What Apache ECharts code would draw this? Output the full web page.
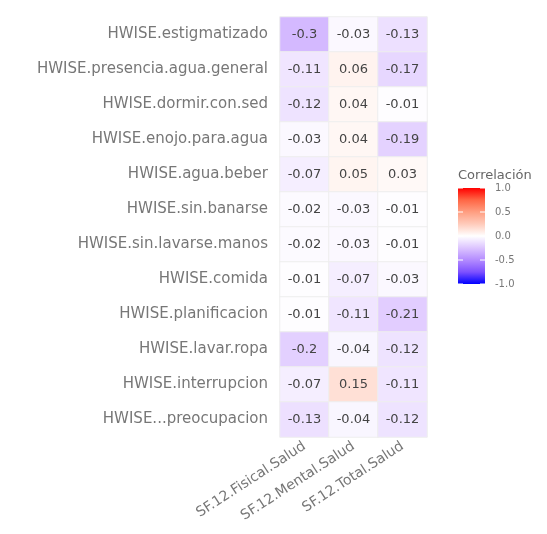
<!DOCTYPE html>
<html>
<head>
<meta charset="utf-8">
<script src="https://cdn.jsdelivr.net/npm/echarts@6/dist/echarts.min.js"></script>
<style>
html,body{margin:0;padding:0;background:#fff;}
#chart{width:547px;height:534px;}
</style>
</head>
<body>
<div id="chart"></div>
<script>
const rowLabels = [
  "HWISE.estigmatizado",
  "HWISE.presencia.agua.general",
  "HWISE.dormir.con.sed",
  "HWISE.enojo.para.agua",
  "HWISE.agua.beber",
  "HWISE.sin.banarse",
  "HWISE.sin.lavarse.manos",
  "HWISE.comida",
  "HWISE.planificacion",
  "HWISE.lavar.ropa",
  "HWISE.interrupcion",
  "HWISE...preocupacion"
];
const colLabels = ["SF.12.Fisical.Salud", "SF.12.Mental.Salud", "SF.12.Total.Salud"];
const fisical = [-0.3, -0.11, -0.12, -0.03, -0.07, -0.02, -0.02, -0.01, -0.01, -0.2, -0.07, -0.13];
const mental  = [-0.03, 0.06, 0.04, 0.04, 0.05, -0.03, -0.03, -0.07, -0.11, -0.04, 0.15, -0.04];
const total   = [-0.13, -0.17, -0.01, -0.19, 0.03, -0.01, -0.01, -0.03, -0.21, -0.12, -0.11, -0.12];
const legendTicks = [1.0, 0.5, 0.0, -0.5, -1.0];
const legendTitle = "Correlación";
const palette = ['#0000FF', '#7E51FF', '#B38BFF', '#DCC4FF', '#FFFFFF', '#FFCBBB', '#FF9E81', '#FF6645', '#FF0000'];

const columns = [fisical, mental, total];
const data = [];
columns.forEach((col, xi) => col.forEach((v, yi) => data.push([xi, yi, v])));

const barTop = 188, barH = 96, barLeft = 458, barW = 27;
const graphics = [{
  type: 'text', left: barLeft, top: barTop - 19,
  style: { text: legendTitle, fill: '#666', font: '13px "DejaVu Sans"' }
}, {
  type: 'rect', shape: { x: barLeft, y: barTop, width: barW, height: barH },
  style: {
    fill: new echarts.graphic.LinearGradient(0, 1, 0, 0,
      palette.map((c, i) => ({ offset: i / (palette.length - 1), color: c })))
  }
}];
legendTicks.forEach(t => {
  const y = barTop + (1 - t) / 2 * barH;
  graphics.push({
    type: 'text', x: barLeft + barW + 10, y: y,
    style: { text: t.toFixed(1), fill: '#777', font: '10px "DejaVu Sans"', textVerticalAlign: 'middle' }
  });
  graphics.push({ type: 'line', shape: { x1: barLeft, y1: y, x2: barLeft + 5, y2: y }, style: { stroke: '#fff', lineWidth: 1 }, z: 100 });
  graphics.push({ type: 'line', shape: { x1: barLeft + barW - 5, y1: y, x2: barLeft + barW, y2: y }, style: { stroke: '#fff', lineWidth: 1 }, z: 100 });
});

const chart = echarts.init(document.getElementById('chart'));
chart.setOption({
  animation: false,
  backgroundColor: '#fff',
  grid: { left: 280, right: 120, top: 17, bottom: 97 },
  xAxis: {
    type: 'category', data: colLabels,
    axisLine: { show: false }, axisTick: { show: false }, splitLine: { show: false },
    axisLabel: { rotate: 33, margin: 8, color: '#777', fontSize: 14, fontFamily: 'DejaVu Sans' }
  },
  yAxis: {
    type: 'category', data: rowLabels, inverse: true,
    axisLine: { show: false }, axisTick: { show: false }, splitLine: { show: false },
    axisLabel: { margin: 12, color: '#777', fontSize: 15, fontFamily: 'DejaVu Sans' }
  },
  visualMap: {
    type: 'continuous', min: -1, max: 1, show: false,
    inRange: { color: palette }
  },
  graphic: graphics,
  series: [{
    type: 'heatmap', data: data,
    itemStyle: { borderColor: '#eeeeee', borderWidth: 1 },
    label: {
      show: true, color: '#444', fontSize: 13, fontFamily: 'DejaVu Sans',
      formatter: p => String(p.value[2])
    }
  }]
});
</script>
</body>
</html>
